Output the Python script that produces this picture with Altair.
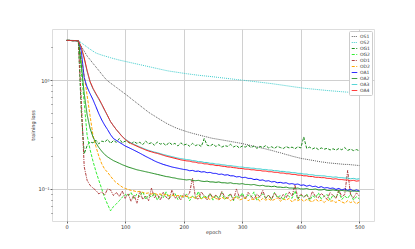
import altair as alt
import pandas as pd

epochs = list(range(0, 501, 5))

series_names = ["OS1", "OS2", "OG1", "OG2", "OD1", "OD2", "OA1", "OA2", "OA3", "OA4"]
series_colors = ["#5a5a5a", "#3ccccc", "#1e8c1e", "#33ee33", "#b04040",
                 "#ffa500", "#0000ff", "#1a8a1a", "#30cccc", "#ff1010"]

OS1 = [2.31, 2.31, 2.31, 2.30, 2.30,
       2.04, 1.84, 1.66, 1.538, 1.422, 1.318, 1.222, 1.130, 1.047, 0.982, 0.937, 0.895, 0.855, 0.817, 0.780, 0.745,
       0.710, 0.676, 0.644, 0.614, 0.585, 0.557, 0.531, 0.506, 0.486, 0.468, 0.450, 0.433, 0.417, 0.402, 0.389, 0.378, 0.367, 0.358, 0.350, 0.343,
       0.336, 0.330, 0.324, 0.319, 0.314, 0.309, 0.304, 0.300, 0.295, 0.291,
       0.288, 0.285, 0.282, 0.279, 0.276, 0.273, 0.270, 0.267, 0.264, 0.261,
       0.257, 0.254, 0.250, 0.247, 0.243, 0.240, 0.236, 0.233, 0.229, 0.226,
       0.222, 0.218, 0.215, 0.211, 0.207, 0.204, 0.200, 0.197, 0.194, 0.191,
       0.189, 0.187, 0.185, 0.183, 0.181, 0.179, 0.177, 0.176, 0.174, 0.173,
       0.172, 0.171, 0.170, 0.169, 0.168, 0.168, 0.167, 0.166, 0.165, 0.164]

OS2 = [2.31, 2.31, 2.31, 2.30, 2.30,
       2.198, 2.099, 2.004, 1.919, 1.841, 1.770, 1.730, 1.694, 1.663, 1.633, 1.603, 1.574, 1.549, 1.524, 1.503, 1.483,
       1.462, 1.442, 1.422, 1.403, 1.384, 1.365, 1.346, 1.327, 1.309, 1.291, 1.274, 1.256, 1.239, 1.222, 1.208, 1.197, 1.186, 1.175, 1.164, 1.153,
       1.143, 1.133, 1.124, 1.115, 1.106, 1.099, 1.092, 1.085, 1.078, 1.071,
       1.063, 1.055, 1.048, 1.040, 1.033, 1.026, 1.018, 1.011, 1.004, 0.997,
       0.990, 0.983, 0.976, 0.969, 0.962, 0.955, 0.948, 0.941, 0.934, 0.927,
       0.919, 0.911, 0.903, 0.895, 0.887, 0.879, 0.871, 0.863, 0.856, 0.849,
       0.841, 0.836, 0.831, 0.826, 0.821, 0.816, 0.811, 0.806, 0.801, 0.797,
       0.793, 0.789, 0.785, 0.781, 0.777, 0.774, 0.771, 0.768, 0.765, 0.762]

OG1 = [2.31, 2.31, 2.30, 2.30, 2.29,
       0.52, 0.21, 0.25, 0.27, 0.265, 0.28, 0.26, 0.275, 0.27, 0.285, 0.262, 0.278, 0.268, 0.29, 0.265, 0.275,
       0.27, 0.258, 0.272, 0.262, 0.268, 0.255, 0.275, 0.26, 0.266, 0.252, 0.27, 0.258, 0.263, 0.25, 0.268, 0.255, 0.262, 0.248, 0.265, 0.253,
       0.258, 0.247, 0.262, 0.25, 0.256, 0.245, 0.29, 0.252, 0.248, 0.258,
       0.245, 0.255, 0.242, 0.25, 0.246, 0.257, 0.243, 0.25, 0.238, 0.248,
       0.242, 0.252, 0.24, 0.248, 0.236, 0.246, 0.24, 0.25, 0.238, 0.244,
       0.236, 0.246, 0.24, 0.235, 0.245, 0.238, 0.242, 0.234, 0.244, 0.238,
       0.30, 0.236, 0.242, 0.233, 0.24, 0.23, 0.238, 0.232, 0.236, 0.228,
       0.234, 0.227, 0.235, 0.229, 0.24, 0.226, 0.232, 0.225, 0.23, 0.224]

OG2 = [2.31, 2.31, 2.30, 2.30, 2.29,
       1.2, 0.62, 0.31, 0.23, 0.18, 0.145, 0.12, 0.10, 0.083, 0.072, 0.063, 0.069, 0.073, 0.078, 0.084, 0.089,
       0.086, 0.093, 0.082, 0.09, 0.085, 0.095, 0.08, 0.088, 0.084, 0.092, 0.079, 0.089, 0.083, 0.094, 0.081, 0.087, 0.091, 0.08, 0.088, 0.084,
       0.09, 0.078, 0.086, 0.082, 0.095, 0.08, 0.087, 0.083, 0.091, 0.079,
       0.088, 0.082, 0.093, 0.08, 0.086, 0.09, 0.078, 0.087, 0.083, 0.092,
       0.081, 0.088, 0.084, 0.094, 0.079, 0.086, 0.09, 0.082, 0.088, 0.08,
       0.093, 0.083, 0.087, 0.079, 0.091, 0.085, 0.082, 0.096, 0.08, 0.088,
       0.084, 0.09, 0.078, 0.087, 0.083, 0.092, 0.081, 0.086, 0.089, 0.079,
       0.088, 0.083, 0.094, 0.08, 0.086, 0.082, 0.09, 0.079, 0.085, 0.081]

OD1 = [2.31, 2.31, 2.30, 2.30, 2.29,
       0.65, 0.16, 0.12, 0.108, 0.102, 0.097, 0.09, 0.094, 0.088, 0.1, 0.098, 0.087, 0.093, 0.085, 0.096, 0.082,
       0.09, 0.077, 0.088, 0.074, 0.095, 0.08, 0.086, 0.078, 0.102, 0.083, 0.089, 0.079, 0.093, 0.084, 0.08, 0.098, 0.082, 0.087, 0.079, 0.09,
       0.085, 0.092, 0.126, 0.084, 0.08, 0.094, 0.086, 0.079, 0.091, 0.083,
       0.088, 0.08, 0.095, 0.085, 0.082, 0.09, 0.079, 0.1, 0.084, 0.087,
       0.081, 0.093, 0.086, 0.08, 0.09, 0.084, 0.097, 0.082, 0.088, 0.08,
       0.092, 0.085, 0.081, 0.089, 0.083, 0.094, 0.086, 0.109, 0.082, 0.09,
       0.084, 0.088, 0.081, 0.095, 0.085, 0.083, 0.091, 0.086, 0.08, 0.093,
       0.087, 0.082, 0.098, 0.085, 0.089, 0.148, 0.088, 0.083, 0.092, 0.086]

OD2 = [2.31, 2.31, 2.30, 2.30, 2.29,
       1.6, 1.1, 0.72, 0.47, 0.31, 0.245, 0.20, 0.17, 0.152, 0.142, 0.131, 0.121, 0.114, 0.109, 0.104, 0.101,
       0.099, 0.097, 0.096, 0.094, 0.095, 0.093, 0.091, 0.092, 0.09, 0.091, 0.089, 0.09, 0.088, 0.089, 0.087, 0.088, 0.086, 0.087, 0.086, 0.085,
       0.086, 0.083, 0.085, 0.082, 0.087, 0.081, 0.084, 0.083, 0.08, 0.085,
       0.082, 0.079, 0.084, 0.081, 0.083, 0.078, 0.082, 0.085, 0.079, 0.081,
       0.083, 0.078, 0.081, 0.08, 0.084, 0.077, 0.082, 0.079, 0.081, 0.078,
       0.08, 0.083, 0.077, 0.081, 0.079, 0.082, 0.076, 0.08, 0.078, 0.081,
       0.077, 0.08, 0.078, 0.076, 0.081, 0.077, 0.079, 0.075, 0.08, 0.077,
       0.078, 0.075, 0.079, 0.076, 0.074, 0.078, 0.075, 0.077, 0.073, 0.076]

OA1 = [2.31, 2.31, 2.30, 2.30, 2.29,
       1.85, 1.05, 0.86, 0.75, 0.66, 0.57, 0.49, 0.43, 0.385, 0.35, 0.315, 0.29, 0.279, 0.268, 0.258, 0.248,
       0.241, 0.234, 0.227, 0.22, 0.213, 0.206, 0.199, 0.193, 0.187, 0.181, 0.176, 0.172, 0.168, 0.165, 0.162, 0.159, 0.157, 0.155, 0.153, 0.151,
       0.150, 0.147, 0.148, 0.145, 0.146, 0.143, 0.144, 0.141, 0.142, 0.139,
       0.139, 0.136, 0.137, 0.134, 0.135, 0.132, 0.132, 0.129, 0.130, 0.127,
       0.128, 0.125, 0.125, 0.122, 0.123, 0.120, 0.121, 0.118, 0.119, 0.116,
       0.117, 0.114, 0.115, 0.113, 0.114, 0.111, 0.112, 0.110, 0.111, 0.108,
       0.109, 0.106, 0.108, 0.105, 0.106, 0.103, 0.105, 0.102, 0.103, 0.101,
       0.102, 0.099, 0.101, 0.098, 0.1, 0.097, 0.099, 0.096, 0.098, 0.096]

OA2 = [2.31, 2.31, 2.30, 2.30, 2.29,
       1.4, 0.75, 0.48, 0.36, 0.30, 0.265, 0.24, 0.222, 0.207, 0.197, 0.189, 0.182, 0.177, 0.172, 0.167, 0.163,
       0.159, 0.156, 0.153, 0.15, 0.148, 0.146, 0.144, 0.142, 0.14, 0.138, 0.136, 0.134, 0.132, 0.13, 0.129, 0.127, 0.126, 0.124, 0.123, 0.122,
       0.121, 0.122, 0.12, 0.119, 0.12, 0.118, 0.117, 0.118, 0.116, 0.116,
       0.115, 0.116, 0.114, 0.114, 0.113, 0.114, 0.112, 0.112, 0.111, 0.112,
       0.11, 0.11, 0.109, 0.11, 0.108, 0.107, 0.108, 0.106, 0.106, 0.105,
       0.106, 0.104, 0.104, 0.103, 0.104, 0.102, 0.102, 0.101, 0.102, 0.1,
       0.1, 0.101, 0.099, 0.099, 0.1, 0.098, 0.098, 0.099, 0.097, 0.097,
       0.098, 0.097, 0.096, 0.097, 0.096, 0.096, 0.095, 0.096, 0.095, 0.095]

OA3 = [2.31, 2.31, 2.30, 2.30, 2.29,
       1.97, 1.57, 1.2, 0.96, 0.83, 0.74, 0.665, 0.595, 0.527, 0.468, 0.415, 0.38, 0.35, 0.326, 0.304, 0.287,
       0.275, 0.265, 0.257, 0.25, 0.243, 0.237, 0.231, 0.226, 0.222, 0.218, 0.215, 0.211, 0.207, 0.204, 0.201, 0.198, 0.195, 0.192, 0.19, 0.188,
       0.186, 0.185, 0.182, 0.181, 0.178, 0.178, 0.175, 0.175, 0.172, 0.172,
       0.169, 0.169, 0.167, 0.166, 0.164, 0.164, 0.162, 0.161, 0.159, 0.159,
       0.157, 0.157, 0.155, 0.155, 0.153, 0.153, 0.151, 0.151, 0.149, 0.149,
       0.147, 0.147, 0.145, 0.145, 0.143, 0.143, 0.141, 0.141, 0.139, 0.139,
       0.137, 0.137, 0.135, 0.135, 0.133, 0.133, 0.132, 0.132, 0.13, 0.13,
       0.128, 0.129, 0.127, 0.127, 0.126, 0.126, 0.124, 0.125, 0.123, 0.124]

OA4 = [2.31, 2.31, 2.30, 2.30, 2.29,
       2.0, 1.6, 1.22, 0.97, 0.84, 0.75, 0.675, 0.60, 0.53, 0.47, 0.415, 0.38, 0.35, 0.325, 0.302, 0.285,
       0.272, 0.262, 0.254, 0.247, 0.24, 0.234, 0.228, 0.223, 0.219, 0.215, 0.212, 0.208, 0.204, 0.2, 0.197, 0.194, 0.191, 0.188, 0.185, 0.183,
       0.181, 0.18, 0.177, 0.176, 0.173, 0.173, 0.17, 0.17, 0.167, 0.167,
       0.164, 0.164, 0.162, 0.161, 0.159, 0.159, 0.157, 0.156, 0.154, 0.154,
       0.152, 0.152, 0.15, 0.15, 0.148, 0.148, 0.146, 0.146, 0.144, 0.144,
       0.142, 0.142, 0.14, 0.14, 0.138, 0.138, 0.136, 0.136, 0.134, 0.134,
       0.132, 0.132, 0.13, 0.13, 0.128, 0.128, 0.127, 0.127, 0.125, 0.125,
       0.123, 0.124, 0.122, 0.122, 0.121, 0.121, 0.119, 0.12, 0.118, 0.119]

values = {"OS1": OS1, "OS2": OS2, "OG1": OG1, "OG2": OG2, "OD1": OD1,
          "OD2": OD2, "OA1": OA1, "OA2": OA2, "OA3": OA3, "OA4": OA4}

dashes = [[1, 1], [1, 1], [3, 1.5], [3, 1.5], [3, 1, 1, 1], [3, 1.5],
          [1, 0], [1, 0], [1, 0], [1, 0]]
widths = [1, 1, 1, 1, 1, 1, 1.1, 1.1, 1.4, 1.4]

x_ticks = [0, 100, 200, 300, 400, 500]
y_major = [0.1, 1]
y_minor = [0.06, 0.07, 0.08, 0.09, 0.2, 0.3, 0.4, 0.5, 0.6, 0.7, 0.8, 0.9, 2]

rows = []
for name in series_names:
    for e, v in zip(epochs, values[name]):
        rows.append({"epoch": e, "loss": v, "series": name})
df = pd.DataFrame(rows)

FONT = "DejaVu Sans"
xscale = alt.Scale(domain=[-25, 525], nice=False, zero=False)
yscale = alt.Scale(type="log", domain=[0.0508, 2.94], nice=False)

xaxis = alt.Axis(values=x_ticks, title="epoch", grid=True, gridColor="#d0d0d0",
                 labelFontSize=5, titleFontSize=5, titleFontWeight="normal",
                 tickSize=2, labelPadding=1, titlePadding=0, domain=False,
                 tickColor="#666", labelColor="#333", titleColor="#333",
                 labelFont=FONT, titleFont=FONT)

lines = alt.Chart(df).mark_line(clip=True).encode(
    x=alt.X("epoch:Q", scale=xscale, axis=xaxis),
    y=alt.Y("loss:Q", scale=yscale,
            axis=alt.Axis(values=y_major, title="training loss", grid=True, gridColor="#d0d0d0",
                          labelExpr="datum.value > 0.5 ? '10⁰' : '10⁻¹'",
                          labelFontSize=5, titleFontSize=5, titleFontWeight="normal",
                          tickSize=2, labelPadding=1, titlePadding=2, domain=False,
                          tickColor="#666", labelColor="#333", titleColor="#333",
                          labelFont=FONT, titleFont=FONT)),
    color=alt.Color("series:N", scale=alt.Scale(domain=series_names, range=series_colors),
                    sort=series_names,
                    legend=alt.Legend(title=None, orient="top-right", offset=2,
                                      symbolType="stroke", symbolSize=30, symbolStrokeWidth=1.2,
                                      labelFontSize=4.5, labelFont=FONT, labelColor="#333",
                                      rowPadding=0, padding=2, fillColor="white",
                                      strokeColor="#cccccc", cornerRadius=1,
                                      labelOffset=2, symbolOffset=0)),
    strokeDash=alt.StrokeDash("series:N", scale=alt.Scale(domain=series_names, range=dashes),
                              sort=series_names, legend=alt.Legend(title=None)),
    strokeWidth=alt.StrokeWidth("series:N", scale=alt.Scale(domain=series_names, range=widths),
                                legend=None),
    order=alt.Order("epoch:Q"),
)

minor = alt.Chart(df).mark_point(opacity=0).encode(
    x=alt.X("epoch:Q", scale=xscale, axis=xaxis),
    y=alt.Y("loss:Q", scale=yscale,
            axis=alt.Axis(values=y_minor, orient="left", labels=False, grid=False, title=None,
                          tickSize=1, domain=False, tickColor="#666")),
)

chart = alt.layer(lines, minor).resolve_axis(y="independent").properties(
    width=322, height=192,
    autosize=alt.AutoSizeParams(type="none"),
    padding={"left": 44, "top": 21, "right": 33, "bottom": 20},
).configure_view(stroke="#707070", strokeWidth=1).configure(background="white")

chart.save("out.html", embed_options={"renderer": "svg", "actions": False})
